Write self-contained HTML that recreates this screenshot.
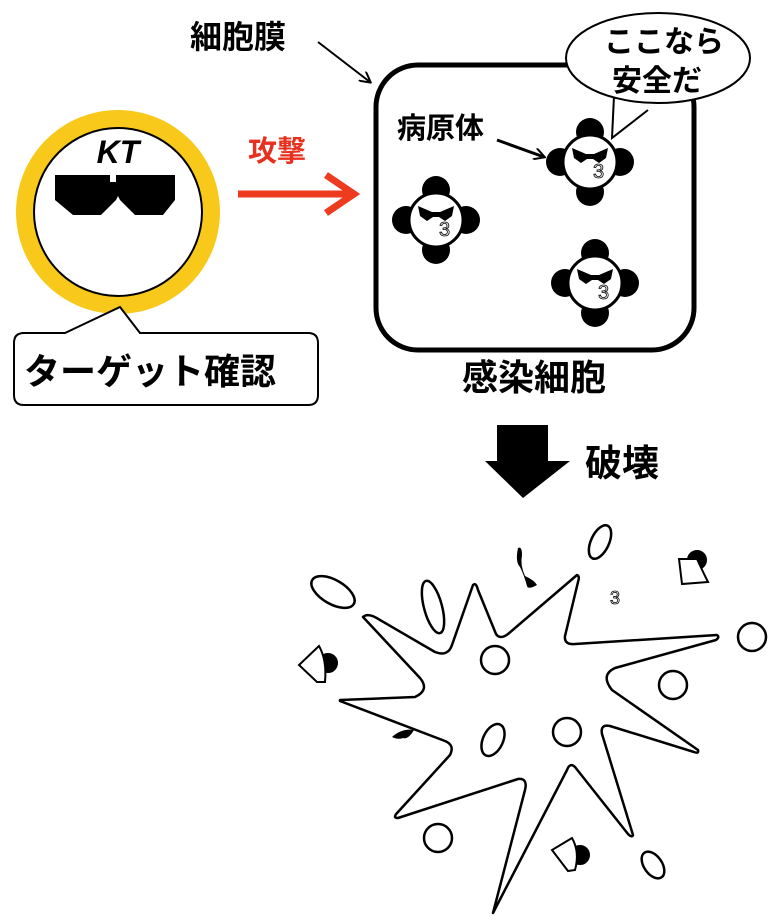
<!DOCTYPE html>
<html><head><meta charset="utf-8"><style>
html,body{margin:0;padding:0;background:#fff;}
svg{display:block}
text{font-family:"Liberation Sans","Noto Sans CJK JP",sans-serif;font-weight:bold;}
</style></head><body>
<svg width="768" height="916" viewBox="0 0 768 916" xmlns="http://www.w3.org/2000/svg">
<defs>
<g id="pg">
<circle cx="0" cy="-30" r="14" fill="#000"/>
<circle cx="0" cy="30" r="14" fill="#000"/>
<circle cx="-30" cy="0" r="14" fill="#000"/>
<circle cx="30" cy="0" r="14" fill="#000"/>
<circle cx="0" cy="0" r="27" fill="#fff" stroke="#000" stroke-width="3"/>
<path d="M-18,-14 L-4,-8 L4,-8 L18,-14 L16,-4 L9,1 L3,-3 L-3,-3 L-9,1 L-16,-4 Z" fill="#000"/>
<text x="3" y="16" font-size="20" fill="none" stroke="#000" stroke-width="0.8" style="font-weight:normal">3</text>
</g>
<marker id="ah" markerWidth="12" markerHeight="12" refX="10" refY="6" orient="auto" markerUnits="userSpaceOnUse">
<path d="M0,0 L11,6 L0,12" fill="none" stroke="#000" stroke-width="2"/>
</marker>
</defs>

<!-- KT circle -->
<circle cx="118" cy="212" r="102" fill="#F8C81A"/>
<circle cx="118" cy="212" r="84" fill="#fff" stroke="#000" stroke-width="2"/>
<text x="118" y="163" font-size="32" text-anchor="middle" font-style="italic">KT</text>
<path d="M55,175 L110,175 L110,182 L116,182 L116,175 L175,175 L175,200 L163,215 L135,215 L120,200 L118,196 L116,200 L101,215 L73,215 L55,200 Z" fill="#000"/>

<!-- callout -->
<path d="M24,333 L65,333 L120,307 L140,333 L308,333 Q318,333 318,343 L318,395 Q318,405 308,405 L24,405 Q14,405 14,395 L14,343 Q14,333 24,333 Z" fill="#fff" stroke="#000" stroke-width="2"/>
<text x="24" y="384" font-size="36">ターゲット確認</text>

<!-- red arrow -->
<text x="248" y="161" font-size="29" fill="#E8301E">攻撃</text>
<line x1="238" y1="194" x2="348" y2="194" stroke="#EE3A1E" stroke-width="7"/>
<path d="M326,175 L354,194 L326,213" fill="none" stroke="#EE3A1E" stroke-width="7"/>

<!-- cell -->
<text x="190" y="48" font-size="32">細胞膜</text>
<line x1="318" y1="42" x2="370" y2="82" stroke="#000" stroke-width="2" marker-end="url(#ah)"/>
<rect x="376" y="65" width="318" height="285" rx="42" fill="#fff" stroke="#000" stroke-width="5"/>
<text x="397" y="138" font-size="29">病原体</text>
<line x1="497" y1="140" x2="544" y2="157" stroke="#000" stroke-width="3" marker-end="url(#ah)"/>
<use href="#pg" x="590" y="162"/>
<use href="#pg" x="436" y="220"/>
<use href="#pg" x="595" y="283"/>
<!-- speech -->
<path d="M614,96 L612,138 L648,110" fill="#fff" stroke="#000" stroke-width="2"/>
<ellipse cx="658" cy="58" rx="92" ry="45" fill="#fff" stroke="#000" stroke-width="2"/>
<path d="M616,99 L614,130 L646,106 Z" fill="#fff"/>
<text x="604" y="52" font-size="30">ここなら</text>
<text x="612" y="91" font-size="30">安全だ</text>
<text x="462" y="390" font-size="36">感染細胞</text>

<!-- big arrow -->
<path d="M497,425 L548,425 L548,461 L570,461 L523,498 L485,461 L497,461 Z" fill="#000"/>
<text x="585" y="476" font-size="37">破壊</text>

<!-- explosion -->
<path d="M340,700 L415,697 Q430,690 420,678 L363,617 Q368,612 380,620 L435,652 Q448,657 452,645 L473,585 Q476,582 478,590 L496,634 Q500,640 508,634 L577,575 Q580,576 578,582 L565,636 Q564,645 575,644 L717,635 Q720,637 716,640 L615,668 Q600,675 612,690 L698,750 Q699,754 694,752 L610,726 Q600,724 602,734 L633,835 Q632,838 628,834 L575,767 Q570,762 567,770 L493,913 L525,790 Q528,778 518,779 L398,818 Q392,818 398,812 L450,755 Q455,745 445,741 L340,701 Z" fill="#fff" stroke="#000" stroke-width="2.5" stroke-linejoin="round"/>
<g fill="none" stroke="#000" stroke-width="2.5">
<circle cx="495" cy="660" r="14"/>
<circle cx="673" cy="685" r="14"/>
<circle cx="567" cy="732" r="14"/>
<circle cx="438" cy="838" r="14"/>
<circle cx="752" cy="637" r="14"/>
<ellipse cx="333" cy="592" rx="24" ry="12" transform="rotate(30 333 592)"/>
<ellipse cx="433" cy="607" rx="9" ry="27" transform="rotate(-15 433 607)"/>
<ellipse cx="600" cy="542" rx="9" ry="18" transform="rotate(25 600 542)"/>
<ellipse cx="493" cy="740" rx="10" ry="17" transform="rotate(25 493 740)"/>
<ellipse cx="653" cy="865" rx="9" ry="15" transform="rotate(-35 653 865)"/>
</g>
<g stroke="#000" stroke-width="2">
<circle cx="697" cy="560" r="9" fill="#000"/>
<path d="M679,559 L697,559 Q703,572 708,582 L682,584 Z" fill="#fff"/>
<circle cx="328" cy="663" r="9" fill="#000"/>
<path d="M319,646 Q327,660 325,682 L317,682 L299,665 Z" fill="#fff"/>
<circle cx="580" cy="855" r="9" fill="#000"/>
<path d="M572,838 Q580,852 575,870 L568,871 L552,850 Z" fill="#fff"/>
</g>
<path d="M518,548 Q522,546 522,555 Q520,565 525,576 Q534,580 537,585 Q528,590 527,586 Q524,575 520,567 Q515,562 518,548 Z" fill="#000"/>
<path d="M392,737 Q402,728 414,730 Q408,740 403,738 Q398,740 392,737 Z" fill="#000"/>
<text x="610" y="604" font-size="18" fill="none" stroke="#000" stroke-width="0.8" style="font-weight:normal">3</text>
</svg>
</body></html>
